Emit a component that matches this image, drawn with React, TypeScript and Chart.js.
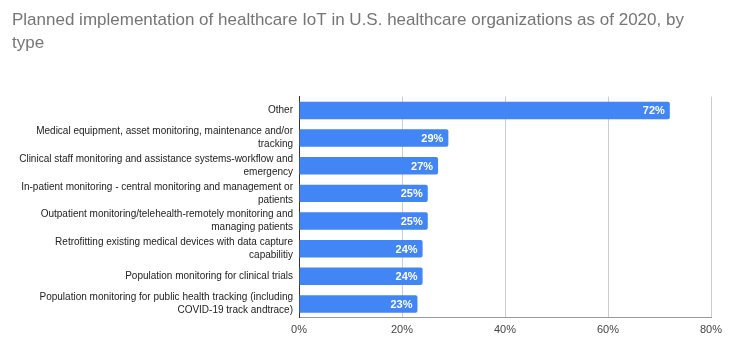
import React, { useEffect, useRef } from "react";
import { Chart, registerables } from "chart.js";

Chart.register(...registerables);

const TITLE_LINES = [
  "Planned implementation of healthcare IoT in U.S. healthcare organizations as of 2020, by",
  "type",
];

const CATEGORIES: string[][] = [
  ["Other"],
  ["Medical equipment, asset monitoring, maintenance and/or", "tracking"],
  ["Clinical staff monitoring and assistance systems-workflow and", "emergency"],
  ["In-patient monitoring - central monitoring and management or", "patients"],
  ["Outpatient monitoring/telehealth-remotely monitoring and", "managing patients"],
  ["Retrofitting existing medical devices with data capture", "capabilitiy"],
  ["Population monitoring for clinical trials"],
  ["Population monitoring for public health tracking (including", "COVID-19 track andtrace)"],
];

const VALUES = [72, 29, 27, 25, 25, 24, 24, 23];

const X_TICKS = [0, 20, 40, 60, 80];

const FONT = "'Liberation Sans', Arial, sans-serif";

const valueLabels = {
  id: "valueLabels",
  afterDatasetsDraw(chart: any) {
    const ctx = chart.ctx;
    const meta = chart.getDatasetMeta(0);
    ctx.save();
    ctx.fillStyle = "#ffffff";
    ctx.font = `bold 11px ${FONT}`;
    ctx.textAlign = "right";
    ctx.textBaseline = "middle";
    meta.data.forEach((bar: any, i: number) => {
      ctx.fillText(`${VALUES[i]}%`, bar.x - 5, bar.y + 1);
    });
    ctx.restore();
  },
};

export default function App() {
  const ref = useRef<HTMLCanvasElement>(null);
  useEffect(() => {
    document.body.style.margin = "0";
    const chart = new Chart(ref.current!, {
      type: "bar",
      data: {
        labels: CATEGORIES,
        datasets: [
          {
            data: VALUES,
            backgroundColor: "#4285F4",
            borderRadius: 2,
            borderSkipped: "start",
            barPercentage: 0.63,
            categoryPercentage: 1,
          },
        ],
      },
      options: {
        indexAxis: "y",
        animation: false,
        responsive: false,
        maintainAspectRatio: false,
        layout: { padding: { left: 12, right: 18, top: 8, bottom: 10 } },
        plugins: {
          legend: { display: false },
          tooltip: { enabled: false },
          title: {
            display: true,
            text: TITLE_LINES,
            align: "start",
            color: "#757575",
            font: { family: FONT, size: 17, weight: "normal", lineHeight: 1.4 },
            padding: { top: 0, bottom: 41 },
          },
        },
        scales: {
          x: {
            min: 0,
            max: 80,
            afterBuildTicks(scale: any) {
              scale.ticks = X_TICKS.map((v) => ({ value: v }));
            },
            ticks: {
              color: "#444444",
              font: { family: FONT, size: 11 },
              padding: 6,
              callback: (v: any) => `${v}%`,
            },
            grid: { color: "#cccccc", drawTicks: false },
            border: { color: "#999999" },
          },
          y: {
            ticks: {
              color: "#222222",
              font: { family: FONT, size: 10, lineHeight: 1.3 },
              padding: 6,
              autoSkip: false,
            },
            grid: { display: false, drawTicks: false },
            border: { color: "#333333" },
            afterFit(scale: any) {
              scale.width = 287;
            },
          },
        },
      },
      plugins: [valueLabels],
    });
    return () => chart.destroy();
  }, []);
  return (
    <div style={{ position: "fixed", left: 0, top: 0, width: 729, height: 353, background: "#fff" }}>
      <canvas ref={ref} width={729} height={353} />
    </div>
  );
}
